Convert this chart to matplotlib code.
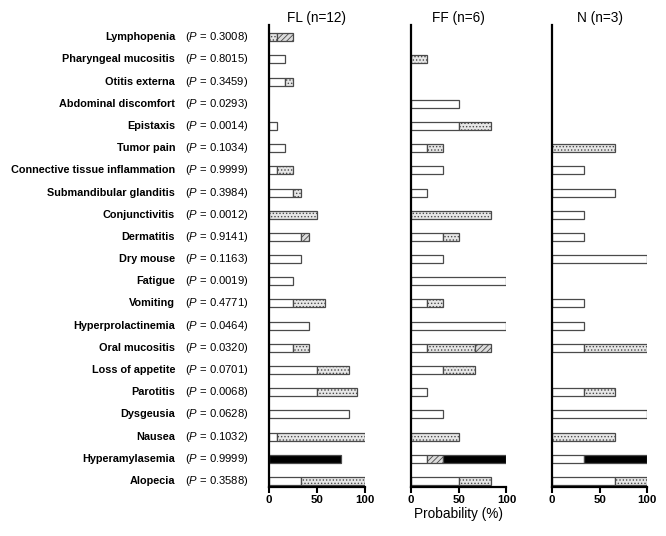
import numpy as np
import matplotlib
matplotlib.use('Agg')
import matplotlib.pyplot as plt
from matplotlib.transforms import blended_transform_factory

plt.rcParams['font.family'] = ['Liberation Sans', 'DejaVu Sans']
plt.rcParams['mathtext.fontset'] = 'custom'
plt.rcParams['mathtext.it'] = 'Liberation Sans:italic'
plt.rcParams['mathtext.rm'] = 'Liberation Sans'
plt.rcParams['hatch.linewidth'] = 0.6

# Adverse events, top to bottom
events = ['Lymphopenia', 'Pharyngeal mucositis', 'Otitis externa', 'Abdominal discomfort',
          'Epistaxis', 'Tumor pain', 'Connective tissue inflammation', 'Submandibular glanditis',
          'Conjunctivitis', 'Dermatitis', 'Dry mouse', 'Fatigue', 'Vomiting',
          'Hyperprolactinemia', 'Oral mucositis', 'Loss of appetite', 'Parotitis',
          'Dysgeusia', 'Nausea', 'Hyperamylasemia', 'Alopecia']
p_values = ['0.3008', '0.8015', '0.3459', '0.0293', '0.0014', '0.1034', '0.9999', '0.3984',
            '0.0012', '0.9141', '0.1163', '0.0019', '0.4771', '0.0464', '0.0320', '0.0701',
            '0.0068', '0.0628', '0.1032', '0.9999', '0.3588']

# number of patients per grade (grade 1..4), same order as events
fl_n = 12
fl_g1 = [0, 2, 2, 0, 1, 2, 1, 3, 0, 4, 4, 3, 3, 5, 3, 6, 6, 10, 1, 0, 4]
fl_g2 = [1, 0, 1, 0, 0, 0, 2, 1, 6, 0, 0, 0, 4, 0, 2, 4, 5, 0, 11, 0, 8]
fl_g3 = [2, 0, 0, 0, 0, 0, 0, 0, 0, 1, 0, 0, 0, 0, 0, 0, 0, 0, 0, 0, 0]
fl_g4 = [0, 0, 0, 0, 0, 0, 0, 0, 0, 0, 0, 0, 0, 0, 0, 0, 0, 0, 0, 9, 0]

ff_n = 6
ff_g1 = [0, 0, 0, 3, 3, 1, 2, 1, 0, 2, 2, 6, 1, 6, 1, 2, 1, 2, 0, 1, 3]
ff_g2 = [0, 1, 0, 0, 2, 1, 0, 0, 5, 1, 0, 0, 1, 0, 3, 2, 0, 0, 3, 0, 2]
ff_g3 = [0, 0, 0, 0, 0, 0, 0, 0, 0, 0, 0, 0, 0, 0, 1, 0, 0, 0, 0, 1, 0]
ff_g4 = [0, 0, 0, 0, 0, 0, 0, 0, 0, 0, 0, 0, 0, 0, 0, 0, 0, 0, 0, 4, 0]

n_n = 3
n_g1 = [0, 0, 0, 0, 0, 0, 1, 2, 1, 1, 3, 0, 1, 1, 1, 0, 1, 3, 0, 1, 2]
n_g2 = [0, 0, 0, 0, 0, 2, 0, 0, 0, 0, 0, 0, 0, 0, 2, 0, 1, 0, 2, 0, 1]
n_g3 = [0] * 21
n_g4 = [0, 0, 0, 0, 0, 0, 0, 0, 0, 0, 0, 0, 0, 0, 0, 0, 0, 0, 0, 2, 0]

groups = [('FL (n=12)', fl_n, [fl_g1, fl_g2, fl_g3, fl_g4]),
          ('FF (n=6)', ff_n, [ff_g1, ff_g2, ff_g3, ff_g4]),
          ('N (n=3)', n_n, [n_g1, n_g2, n_g3, n_g4])]

# grade styles: white, dotted, hatched, black
styles = [dict(facecolor='white', hatch=None),
          dict(facecolor='#e6e6e6', hatch='.....'),
          dict(facecolor='#dcdcdc', hatch='//////'),
          dict(facecolor='black', hatch=None)]

fig = plt.figure(figsize=(6.66, 5.36), dpi=100)
lefts = [0.404, 0.617, 0.8285]
width = 0.1435
bottom, height = 0.0914, 0.862

y = np.arange(len(events))
axes = []
for left, (title, n, grades) in zip(lefts, groups):
    ax = fig.add_axes([left, bottom, width, height])
    start = np.zeros(len(events))
    for g, st in zip(grades, styles):
        vals = np.array(g) / n * 100
        keep = vals > 0
        ax.barh(y[keep], vals[keep], left=start[keep], height=0.36,
                facecolor=st['facecolor'], hatch=st['hatch'],
                edgecolor='#4a4a4a', linewidth=0.9)
        start += vals
    ax.set_xlim(0, 100)
    ax.set_ylim(len(events) - 0.73, -0.55)
    ax.set_yticks([])
    ax.set_xticks([0, 50, 100])
    ax.tick_params(axis='x', direction='out', length=4, width=1.5, pad=1.5, labelsize=8.2)
    for lab in ax.get_xticklabels():
        lab.set_fontweight('bold')
    for s in ['top', 'right']:
        ax.spines[s].set_visible(False)
    ax.spines['left'].set_linewidth(1.6)
    ax.spines['bottom'].set_linewidth(1.6)
    ax.set_title(title, fontsize=9.8, pad=1.5)
    axes.append(ax)

axes[1].set_xlabel('Probability (%)', fontsize=9.8, labelpad=2)

trans = blended_transform_factory(fig.transFigure, axes[0].transData)
for i, (ev, p) in enumerate(zip(events, p_values)):
    axes[0].text(0.263, i, ev, transform=trans, ha='right', va='center',
                 fontsize=7.8, fontweight='bold')
    axes[0].text(0.278, i, '($\\it{P}$ = ' + p + ')', transform=trans, ha='left',
                 va='center', fontsize=8.1)

fig.savefig('out.png', dpi=100)
